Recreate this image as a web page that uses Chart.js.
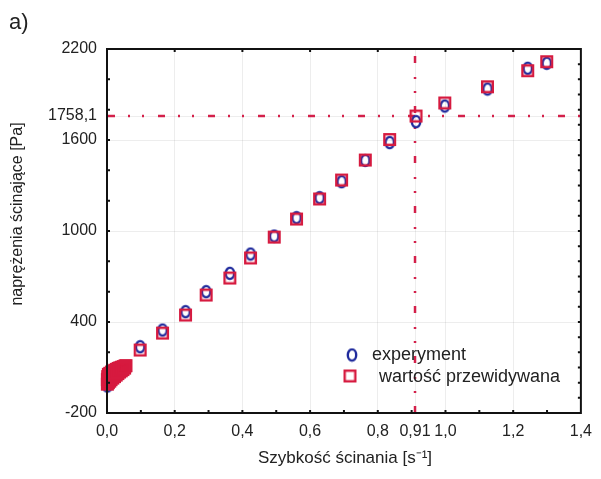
<!DOCTYPE html>
<html lang="pl">
<head>
<meta charset="utf-8">
<title>Naprężenia ścinające</title>
<script src="https://cdn.jsdelivr.net/npm/chart.js@4.4.1/dist/chart.umd.min.js"></script>
<style>
  html, body { margin: 0; padding: 0; background: #fff; }
  #wrap { position: relative; width: 601px; height: 479px; }
</style>
</head>
<body>
<div id="wrap"><canvas id="shearChart" width="601" height="479"></canvas></div>
<script>
// Measured / predicted shear stress [Pa] vs shear rate [1/s]
const shearRate       = [0.098, 0.164, 0.232, 0.293, 0.363, 0.424, 0.494, 0.560, 0.628, 0.693, 0.763, 0.835, 0.913, 0.998, 1.124, 1.243, 1.299];
const stressMeasured  = [237, 347, 468, 600, 721, 848, 967, 1088, 1220, 1325, 1465, 1583, 1721, 1824, 1936, 2073, 2106];
const stressPredicted = [215, 327, 446, 578, 690, 822, 960, 1079, 1211, 1336, 1468, 1603, 1758, 1844, 1951, 2057, 2116];

// start-up region near zero shear rate (points pile up into a blob)
const lowRateMeasX   = [0.001, 0.004, 0.010, 0.018, 0.026, 0.034, 0.042, 0.050];
const lowRateMeasY   = [-22, -8, 8, 24, 40, 55, 70, 85];
const lowRatePredX   = [0.001, 0.004, 0.008, 0.012, 0.017, 0.022, 0.027, 0.032, 0.037, 0.042, 0.047, 0.052,
                        0.001, 0.002, 0.004, 0.008, 0.013, 0.018, 0.023, 0.028, 0.033, 0.038, 0.043, 0.048, 0.053, 0.056,
                        0.002, 0.003, 0.006, 0.010, 0.015, 0.020, 0.025, 0.030, 0.035, 0.040, 0.045, 0.050];
const lowRatePredY   = [-10, 0, 10, 20, 30, 40, 50, 60, 70, 78, 86, 96,
                        20, 40, 55, 62, 70, 76, 82, 88, 94, 98, 102, 106, 110, 112,
                        10, 25, 35, 42, 50, 58, 66, 74, 82, 88, 94, 100];

// axis ticks and the marked operating point
const xTickValues = [0, 0.2, 0.4, 0.6, 0.8, 0.91, 1.0, 1.2, 1.4];
const yTickValues = [-200, 400, 1000, 1600, 1758.1, 2200];
const markRate = 0.91;
const markStress = 1758.1;

const FONT = "'Liberation Sans', Arial, sans-serif";
const BLUE = '#1f2a9c';
const RED = '#d61a3f';
const GUIDE = '#d3204a';

// marker images (ellipse is taller than wide, like in the source)
function makeEllipse() {
    const c = document.createElement('canvas');
    c.width = 12; c.height = 15;
    const g = c.getContext('2d');
    g.strokeStyle = BLUE;
    g.lineWidth = 2.4;
    g.beginPath();
    g.ellipse(6, 7.5, 4.2, 5.6, 0, 0, Math.PI * 2);
    g.stroke();
    return c;
}
function makeSquare() {
    const c = document.createElement('canvas');
    c.width = 15; c.height = 15;
    const g = c.getContext('2d');
    g.strokeStyle = RED;
    g.lineWidth = 2.4;
    g.strokeRect(2.2, 2.2, 10.6, 10.6);
    return c;
}
const ellipseImg = makeEllipse();
const squareImg = makeSquare();

function toPoints(xs, ys) {
    return xs.map((x, i) => ({ x: x, y: ys[i] }));
}
// x axis: one decimal at least ("0,0", "0,91"); y axis: as is ("1600", "1758,1")
function xLabel(v) {
    const s = Number.isInteger(v) ? v.toFixed(1) : String(v);
    return s.replace('.', ',');
}
function yLabel(v) {
    return String(v).replace('.', ',');
}

// frame, inward ticks, guide lines, titles and legend
const decorPlugin = {
    id: 'decor',
    beforeDatasetsDraw(chart) {
        const { ctx, chartArea: a, scales: { x, y } } = chart;
        ctx.save();
        ctx.strokeStyle = GUIDE;
        ctx.lineWidth = 2.5;
        ctx.setLineDash([7, 13, 2, 12, 2, 14]);
        const yy = y.getPixelForValue(markStress);
        ctx.beginPath();
        ctx.moveTo(a.left + 1, yy);
        ctx.lineTo(a.right, yy);
        ctx.stroke();
        const xx = x.getPixelForValue(markRate);
        ctx.beginPath();
        ctx.moveTo(xx, a.bottom);
        ctx.lineTo(xx, a.top);
        ctx.stroke();
        ctx.restore();
    },
    afterDatasetsDraw(chart) {
        const { ctx, chartArea: a, scales: { x, y } } = chart;
        ctx.save();
        ctx.strokeStyle = '#111';
        ctx.lineWidth = 2;
        ctx.strokeRect(a.left, a.top, a.right - a.left, a.bottom - a.top);
        ctx.beginPath();
        for (let i = 1; i < 14; i++) {
            const px = x.getPixelForValue(i / 10);
            ctx.moveTo(px, a.bottom); ctx.lineTo(px, a.bottom - 3);
            if (i % 2 === 0) { ctx.moveTo(px, a.top); ctx.lineTo(px, a.top + 3); }
        }
        for (let v = -100; v < 2200; v += 100) {
            const py = y.getPixelForValue(v);
            ctx.moveTo(a.right, py); ctx.lineTo(a.right - 3, py);
            if (v % 200 === 0) { ctx.moveTo(a.left, py); ctx.lineTo(a.left + 3, py); }
        }
        ctx.stroke();
        ctx.restore();
    },
    afterDraw(chart) {
        const ctx = chart.ctx;
        ctx.save();
        ctx.fillStyle = '#222';
        ctx.textBaseline = 'alphabetic';
        ctx.textAlign = 'left';
        ctx.font = '22px ' + FONT;
        ctx.fillText('a)', 9, 29);

        ctx.font = '17px ' + FONT;
        ctx.textAlign = 'center';
        ctx.fillText('Szybkość ścinania [s⁻¹]', 345, 463);

        ctx.save();
        ctx.translate(17.5, 214);
        ctx.rotate(-Math.PI / 2);
        ctx.font = '16px ' + FONT;
        ctx.textBaseline = 'middle';
        ctx.fillText('naprężenia ścinające [Pa]', 0, 0);
        ctx.restore();

        // legend inside the plot area
        const ds = chart.data.datasets;
        ctx.drawImage(ellipseImg, 352 - ellipseImg.width / 2, 355 - ellipseImg.height / 2);
        ctx.drawImage(squareImg, 350 - squareImg.width / 2, 376 - squareImg.height / 2);
        ctx.font = '18px ' + FONT;
        ctx.textAlign = 'left';
        ctx.textBaseline = 'middle';
        ctx.fillText(ds[0].label, 372, 355);
        ctx.fillText(ds[1].label, 379, 377);
        ctx.restore();
    }
};

const ctx = document.getElementById('shearChart');
new Chart(ctx, {
    type: 'scatter',
    data: {
        datasets: [
            {
                label: 'experyment',
                data: toPoints(lowRateMeasX, lowRateMeasY).concat(toPoints(shearRate, stressMeasured)),
                pointStyle: ellipseImg,
                pointRadius: 6,
                order: 1,
                clip: false
            },
            {
                label: 'wartość przewidywana',
                data: toPoints(lowRatePredX, lowRatePredY).concat(toPoints(shearRate, stressPredicted)),
                pointStyle: squareImg,
                pointRadius: 6,
                order: 0,
                clip: false
            }
        ]
    },
    options: {
        responsive: false,
        animation: false,
        devicePixelRatio: 1,
        layout: { padding: { left: 0, right: 13, top: 49, bottom: 0 } },
        plugins: {
            legend: { display: false },
            tooltip: { enabled: false }
        },
        scales: {
            x: {
                type: 'linear',
                min: 0,
                max: 1.4,
                afterBuildTicks: s => { s.ticks = xTickValues.map(v => ({ value: v })); },
                afterFit: s => { s.height = 66; },
                border: { display: false },
                grid: { color: 'rgba(0,0,0,0.07)', drawTicks: false },
                ticks: {
                    autoSkip: false,
                    maxRotation: 0,
                    padding: 9,
                    color: '#222',
                    font: { family: FONT, size: 16 },
                    callback: v => xLabel(v)
                }
            },
            y: {
                type: 'linear',
                min: -200,
                max: 2200,
                afterBuildTicks: s => { s.ticks = yTickValues.map(v => ({ value: v })); },
                afterFit: s => { s.width = 107; },
                border: { display: false },
                grid: { color: 'rgba(0,0,0,0.07)', drawTicks: false },
                ticks: {
                    autoSkip: false,
                    padding: 10,
                    color: '#222',
                    font: { family: FONT, size: 16 },
                    callback: v => yLabel(v)
                }
            }
        }
    },
    plugins: [decorPlugin]
});
</script>
</body>
</html>
